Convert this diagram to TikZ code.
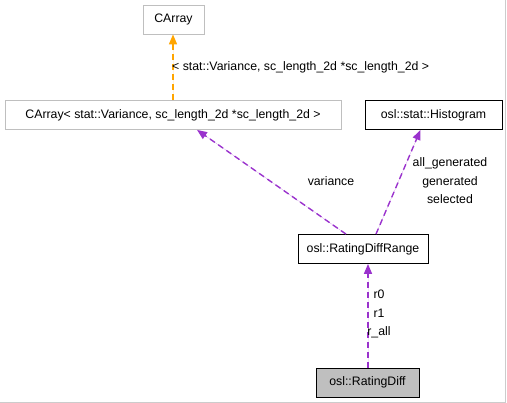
\documentclass[tikz,border=0pt]{standalone}
\usepackage{fontspec}
\setmainfont{Liberation Sans}
\usetikzlibrary{arrows.meta}
\definecolor{edgeorange}{HTML}{FFA500}
\definecolor{edgepurple}{HTML}{9A32CD}
\definecolor{boxgray}{HTML}{BFBFBF}

\begin{document}
\begin{tikzpicture}[
    x=1pt, y=-1pt, >={Triangle[length=10pt,width=8pt]},
    every node/.style={align=center, font=\fontsize{12.3}{18.5}\selectfont, inner sep=0pt},
    classbox/.style={draw, rectangle, line width=0.8pt, minimum height=29pt},
    usedby/.style={->, draw=edgepurple, fill=edgepurple, dash pattern=on 6pt off 4pt, line width=1.4pt},
    inherit/.style={->, draw=edgeorange, fill=edgeorange, dash pattern=on 6pt off 4pt, line width=1.4pt},
    edgelabel/.style={draw=none}
]
\useasboundingbox (0,0) rectangle (507,403);
\draw[gray!40, line width=1pt] (0,402.5) -- (505.5,402.5) -- (505.5,0);
\node (carray) [classbox, draw=boxgray, minimum width=61pt] at (173.5,19.5) {CArray};
\node (carray_variance) [classbox, draw=boxgray, minimum width=336pt] at (173,115) {CArray< stat::Variance, sc\_length\_2d *sc\_length\_2d >};
\node (histogram) [classbox, minimum width=137pt] at (433.5,115) {osl::stat::Histogram};
\node (rating_diff_range) [classbox, minimum width=130pt] at (363,249) {osl::RatingDiffRange};
\node (rating_diff) [classbox, fill=boxgray, minimum width=103pt] at (367.5,382.5) {osl::RatingDiff};
\draw[inherit] ([xshift=-0.5pt]carray_variance.north -| carray) -- ([xshift=-0.5pt]carray.south);
\node (lbl_template) [edgelabel, anchor=west] at (172,67) {< stat::Variance, sc\_length\_2d *sc\_length\_2d >};
\draw[usedby] ([xshift=-17pt]rating_diff_range.north) -- ([xshift=24pt]carray_variance.south);
\node (lbl_variance) [edgelabel] at (331,181) {variance};
\draw[usedby] ([xshift=13pt]rating_diff_range.north) -- ([xshift=-13pt]histogram.south);
\node (lbl_hist) [edgelabel] at (450,181) {all\_generated\\generated\\selected};
\draw[usedby] ([xshift=0.5pt]rating_diff.north) -- ([xshift=0.5pt]rating_diff.north |- rating_diff_range.south);
\node (lbl_range) [edgelabel] at (379,314) {r0\\r1\\r\_all};
\end{tikzpicture}
\end{document}
